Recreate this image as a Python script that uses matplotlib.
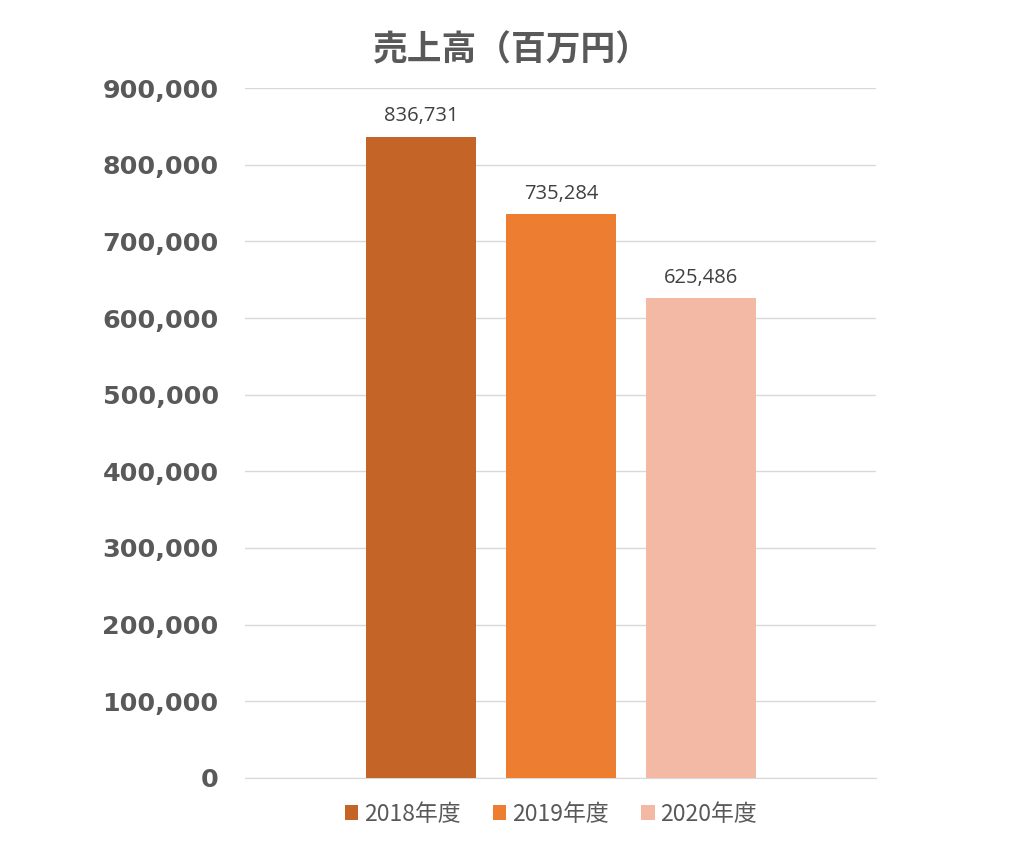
import matplotlib
matplotlib.use("Agg")
import matplotlib.pyplot as plt
from matplotlib.ticker import FuncFormatter
from matplotlib.patches import Patch

plt.rcParams['font.family'] = ['Noto Sans CJK JP', 'DejaVu Sans']

# data
years = ['2018年度', '2019年度', '2020年度']
sales = [836731, 735284, 625486]
colors = ['#C46527', '#ED7D31', '#F4B9A4']
yticks = list(range(0, 900001, 100000))

text_gray = '#595959'

fig = plt.figure(figsize=(10.24, 8.57), dpi=100)
ax = fig.add_axes([0.2393, 0.0922, 0.6162, 0.8051])

xs = range(len(years))
bars = ax.bar(xs, sales, width=0.786, color=colors, zorder=3)

# data labels
for x, v in zip(xs, sales):
    ax.text(x, v + 14000, f'{v:,}', ha='center', va='bottom',
            fontsize=14.5, color='#404040', family=['Open Sans', 'DejaVu Sans'])

ax.set_xlim(-1.257, 3.25)
ax.set_ylim(0, 900000)
ax.set_yticks(yticks)
ax.yaxis.set_major_formatter(FuncFormatter(lambda v, p: f'{int(v):,}'))
for lab in ax.get_yticklabels():
    lab.set_fontweight('bold')
    lab.set_fontsize(18.3)
    lab.set_color(text_gray)
    lab.set_family(['DejaVu Sans'])
ax.tick_params(axis='y', length=0, pad=19)
ax.set_xticks([])

ax.grid(axis='y', color='#D9D9D9', linewidth=1, zorder=0)
for s in ['top', 'right', 'left']:
    ax.spines[s].set_visible(False)
ax.spines['bottom'].set_color('#D9D9D9')

fig.text(0.5, 0.942, '売上高（百万円）', ha='center', va='center',
         fontsize=25, fontweight='bold', color=text_gray)

handles = [Patch(facecolor=c, label=y) for c, y in zip(colors, years)]
fig.legend(handles=handles, loc='center', bbox_to_anchor=(0.538, 0.05),
           ncol=3, frameon=False, fontsize=16.5, handlelength=0.6,
           handleheight=0.6, handletextpad=0.25, columnspacing=1.4,
           labelcolor=text_gray)

fig.savefig('out.png', dpi=100)
